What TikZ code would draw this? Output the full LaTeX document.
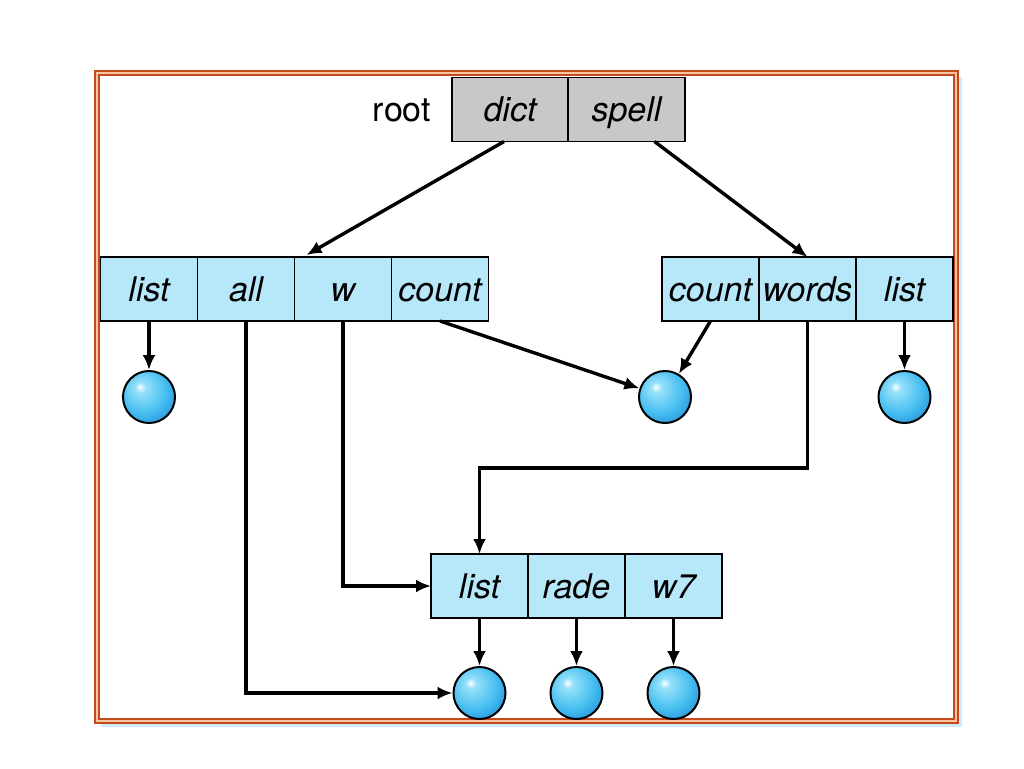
\documentclass[tikz,border=0pt]{standalone}
\usepackage{fontspec}
\setmainfont{TeX Gyre Heros}
\usepackage{xcolor}
\usetikzlibrary{arrows.meta, positioning, shadings}

\definecolor{cellblue}{RGB}{182,232,250}
\definecolor{rootgray}{RGB}{200,200,200}
\definecolor{framered}{RGB}{196,74,30}
\definecolor{framelight}{RGB}{250,196,160}
\definecolor{shadowblue}{RGB}{205,236,250}
\definecolor{balltop}{RGB}{150,225,250}
\definecolor{ballmid}{RGB}{70,190,240}
\definecolor{ballbot}{RGB}{30,140,215}

\pgfdeclareradialshading{filesphere}{\pgfpoint{-9bp}{10bp}}{%
    color(0bp)=(white);
    color(5bp)=(balltop);
    color(22bp)=(ballmid);
    color(36bp)=(ballbot);
    color(60bp)=(ballbot)}

\begin{document}
\begin{tikzpicture}[
    x=0.5pt, y=-0.5pt,
    every node/.style={font=\fontsize{17}{19}\selectfont},
    cell/.style={rectangle, draw=black, line width=0.9pt, fill=#1,
        minimum width=48.5pt, minimum height=32pt, inner sep=0pt, outer sep=0pt,
        text height=13.5pt, text depth=1.5pt,
        font=\fontsize{17}{19}\selectfont\itshape},
    cell/.default=cellblue,
    ball/.style={circle, draw=black, line width=1pt, shading=filesphere,
        minimum size=26pt, inner sep=0pt},
    arrow/.style={-{Latex[length=7.5pt, width=6.5pt]}, line width=1.7pt},
]
\useasboundingbox (0,0) rectangle (1024,768);

% --- Frame ---
\fill[shadowblue] (101,77) rectangle (962,727);
\draw[draw=framered, double=framelight, double distance=0.8pt, line width=1.1pt,
    fill=white] (97,73) rectangle (956,721);

% --- Root ---
\node[cell=rootgray, minimum width=58pt] (dict) at (510,109.5) {dict};
\node[cell=rootgray, minimum width=58.5pt, right=0pt of dict] (spell) {spell};
\node[left=7pt of dict, text height=13.5pt, text depth=1.5pt] (root) {root};

% --- Left directory ---
\node[cell] (lstL) at (149,289) {list};
\node[cell, right=0pt of lstL] (all) {all};
\node[cell, right=0pt of all] (w) {w};
\node[cell, right=0pt of w] (cntL) {count};

% --- Right directory ---
\node[cell] (cntR) at (710.5,289) {count};
\node[cell, right=0pt of cntR] (words) {words};
\node[cell, right=0pt of words] (lstR) {list};

% --- Bottom directory ---
\node[cell] (lstB) at (479.5,586) {list};
\node[cell, right=0pt of lstB] (rade) {rade};
\node[cell, right=0pt of rade] (w7) {w7};

% --- Files ---
\node[ball] (f1) at (149,397) {};
\node[ball] (f2) at (665,397) {};
\node[ball] (f3) at (904.5,397) {};
\node[ball] (b1) at (479.5,693) {};
\node[ball] (b2) at (576.5,693) {};
\node[ball] (b3) at (673.5,693) {};

\coordinate (wbend) at (479.5,468);

% --- Arrows ---
\draw[arrow] ([xshift=-3]dict.south) -- ([xshift=6,yshift=1]all.north east);
\draw[arrow] ([xshift=14]spell.south) -- (words.north);
\draw[arrow] (lstL.south) -- (f1);
\draw[arrow] (all.south) |- (b1.west);
\draw[arrow] (w.south) |- (lstB.west);
\draw[arrow] (cntL.south) -- (f2);
\draw[arrow] (cntR.south) -- (f2);
\draw[arrow] (words.south) |- (wbend) -- (lstB.north);
\draw[arrow] (lstR.south) -- (f3);
\draw[arrow] (lstB.south) -- (b1);
\draw[arrow] (rade.south) -- (b2);
\draw[arrow] (w7.south) -- (b3);

\end{tikzpicture}
\end{document}
